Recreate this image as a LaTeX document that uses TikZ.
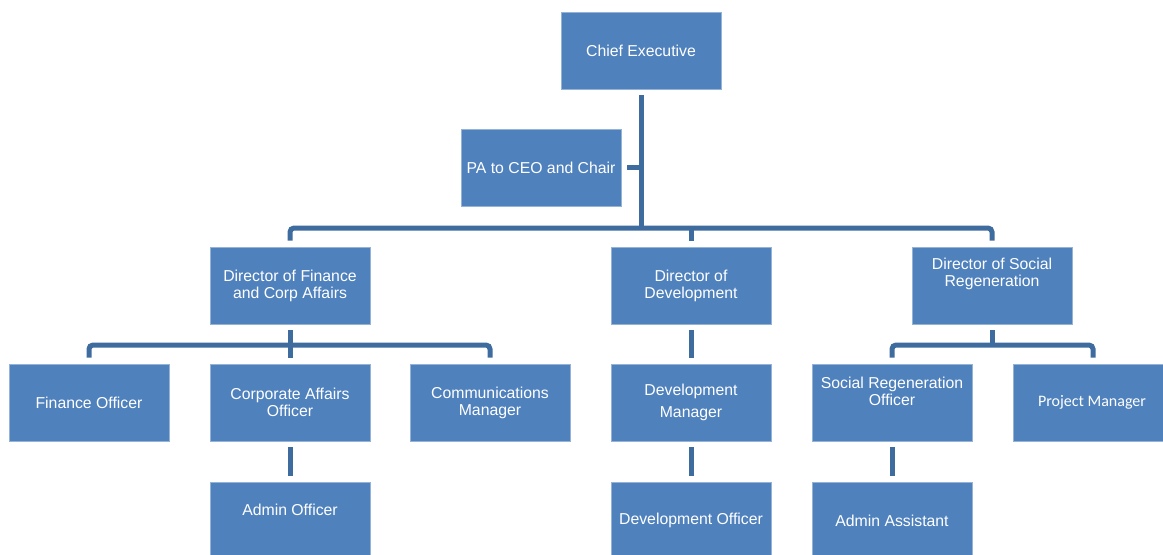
\documentclass[tikz,border=0pt]{standalone}
\usepackage{fontspec}
\setmainfont{Liberation Sans}
\newfontfamily\pmfont{Carlito}
\definecolor{boxblue}{HTML}{4F81BD}
\definecolor{linkblue}{HTML}{3F6C9F}
\begin{document}
\begin{tikzpicture}[x=0.5pt,y=-0.5pt,
  box/.style={rectangle, fill=boxblue, draw=boxblue!60!white, line width=0.4pt,
    minimum width=80pt, minimum height=38.5pt, inner sep=0pt, text=white,
    align=center, font=\fontsize{7.9pt}{8.5pt}\selectfont},
  lbl/.style={text=white, align=center, inner sep=0pt, font=\fontsize{7.9pt}{8.5pt}\selectfont},
  conn/.style={draw=linkblue, line width=2.5pt, line cap=butt}]
\useasboundingbox (0,0) rectangle (1163,554);
\clip (0,0) rectangle (1163,554);
% boxes
\node[box] (ce) at (641,50.5) {Chief Executive};
\node[box] (pa) at (541,167.5) {PA to CEO and Chair};
\node[box] (dfa) at (290,285.5) {Director of Finance\\and Corp Affairs};
\node[box] (dd) at (691,285.5) {Director of\\Development};
\node[box, label={[lbl,yshift=6pt]center:{Director of Social\\Regeneration}}] (dsr) at (992,285.5) {};
\node[box] (fo) at (89,402.5) {Finance Officer};
\node[box] (cao) at (290,402.5) {Corporate Affairs\\Officer};
\node[box] (cm) at (490,402.5) {Communications\\Manager};
\node[box, font=\fontsize{7.9pt}{11pt}\selectfont] (dm) at (691,402.5) {Development\\Manager};
\node[box, label={[lbl,yshift=5.5pt]center:{Social Regeneration\\Officer}}] (sro) at (892,402.5) {};
\node[box, font=\pmfont\fontsize{8pt}{9pt}\selectfont] (pm) at (1093,402.5) {\hspace*{-1pt}Project Manager};
\node[box, label={[lbl,yshift=5.5pt]center:{Admin Officer}}] (ao) at (290,520.5) {};
\node[box] (dof) at (691,520.5) {Development Officer};
\node[box] (aa) at (892,520.5) {Admin Assistant};
% bus coordinates
\coordinate (bus) at (641,228);
\coordinate (fbus) at (290,345);
\coordinate (sbus) at (992,345);
% connectors
\draw[conn] ([yshift=-3pt]ce.south) -- (bus);
\draw[conn] ([xshift=3pt]pa.east) -- (pa.east -| ce.south);
\draw[conn, rounded corners=2pt] ([yshift=3pt]dfa.north) |- (bus) -| ([yshift=3pt]dsr.north);
\draw[conn] ([yshift=3pt]dd.north) -- (dd.north |- bus);
\draw[conn] ([yshift=-3pt]dfa.south) -- (fbus);
\draw[conn, rounded corners=2pt] ([yshift=3pt]fo.north) |- (fbus) -| ([yshift=3pt]cm.north);
\draw[conn] ([yshift=3pt]cao.north) -- (cao.north |- fbus);
\draw[conn] ([yshift=-3pt]cao.south) -- ([yshift=3pt]ao.north);
\draw[conn] ([yshift=-3pt]dd.south) -- ([yshift=3pt]dm.north);
\draw[conn] ([yshift=-3pt]dm.south) -- ([yshift=3pt]dof.north);
\draw[conn] ([yshift=-3pt]dsr.south) -- (sbus);
\draw[conn, rounded corners=2pt] ([yshift=3pt]sro.north) |- (sbus) -| ([yshift=3pt]pm.north);
\draw[conn] ([yshift=-3pt]sro.south) -- ([yshift=3pt]aa.north);
\end{tikzpicture}
\end{document}
